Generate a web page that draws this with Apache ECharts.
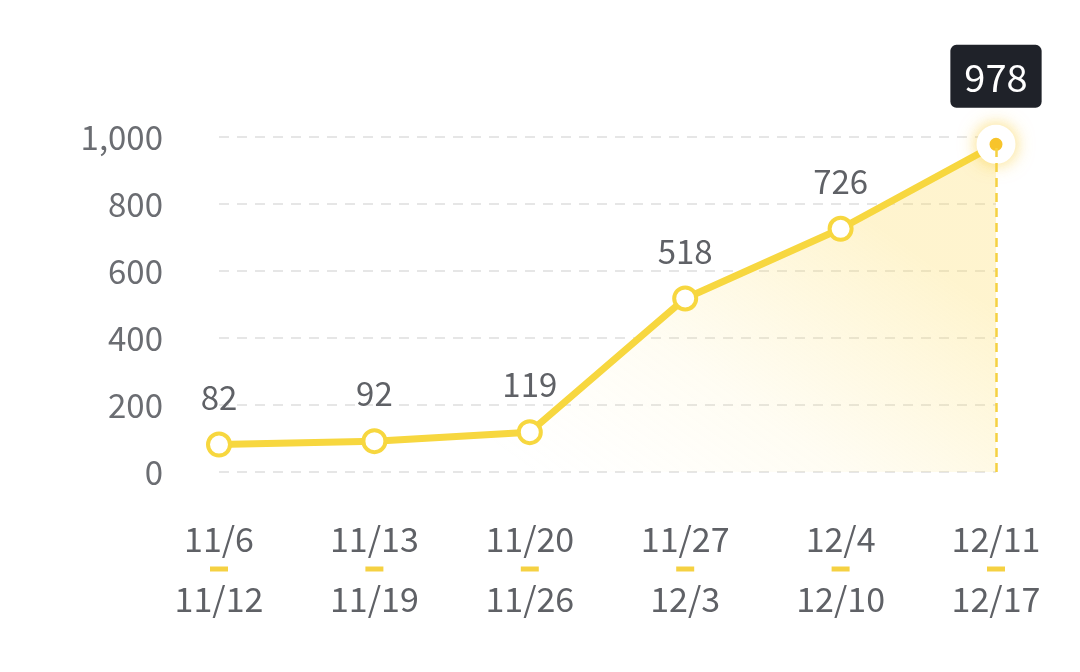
<!DOCTYPE html>
<html><head><meta charset="utf-8">
<script src="https://cdn.jsdelivr.net/npm/echarts@6/dist/echarts.min.js"></script>
<style>html,body{margin:0;padding:0;background:#fff}#c{width:1080px;height:672px}</style>
</head><body><div id="c"></div>
<script>
var startDates = ['11/6','11/13','11/20','11/27','12/4','12/11'];
var endDates = ['11/12','11/19','11/26','12/3','12/10','12/17'];
var values = [82, 92, 119, 518, 726, 978];
var yTicks = [0, 200, 400, 600, 800, 1000];

var FONT = '"Noto Sans CJK SC", "Noto Sans", sans-serif';
var yellow = '#F7D73F';
var categories = startDates.map(function(s, i){ return s + '|' + endDates[i]; });
var lastIdx = values.length - 1;

var data = values.map(function(v, i){
  if (i === lastIdx) {
    return {
      value: v,
      symbolSize: 26,
      itemStyle: {color: '#F5C22E', borderColor: '#fff', borderWidth: 13, shadowBlur: 18, shadowColor: 'rgba(250,200,40,0.55)'},
      label: {
        show: true, position: 'top', distance: 17,
        color: '#fff', fontSize: 38, backgroundColor: '#1F2229', fontFamily: FONT,
        padding: [14, 14, 11, 14], borderRadius: 6
      }
    };
  }
  return v;
});

var chart = echarts.init(document.getElementById('c'));
chart.setOption({
  animation: false,
  grid: {left: 219, right: 84, top: 137, bottom: 200, containLabel: false},
  xAxis: {
    type: 'category', data: categories, boundaryGap: false,
    axisLine: {show: false}, axisTick: {show: false},
    axisLabel: {
      margin: 48, interval: 0,
      formatter: function(v){ var p = v.split('|'); return '{a|' + p[0] + '}\n{d| }\n{a|' + p[1] + '}'; },
      rich: {
        a: {fontSize: 34, color: '#5f6166', fontFamily: FONT, lineHeight: 38},
        d: {width: 18, height: 5, backgroundColor: '#F5D142', lineHeight: 22, fontSize: 2}
      }
    }
  },
  yAxis: {
    type: 'value', min: 0, max: 1000, interval: 200,
    axisLine: {show: false}, axisTick: {show: false},
    axisLabel: {
      margin: 56, fontSize: 33, color: '#6b6d72', fontFamily: FONT,
      formatter: function(v){ return yTicks.indexOf(v) >= 0 ? v.toLocaleString('en-US') : ''; }
    },
    splitLine: {lineStyle: {color: '#e6e6e6', type: [10, 8], width: 2}}
  },
  series: [{
    type: 'line', data: data,
    lineStyle: {color: yellow, width: 7},
    symbol: 'circle', symbolSize: 22,
    itemStyle: {color: '#fff', borderColor: yellow, borderWidth: 4},
    label: {show: true, position: 'top', distance: 18, fontSize: 33, color: '#5f6166', fontFamily: FONT},
    areaStyle: {
      color: new echarts.graphic.LinearGradient(0.7, 0, 0.4, 1, [
        {offset: 0, color: 'rgba(253,218,90,0.42)'},
        {offset: 0.55, color: 'rgba(253,225,110,0.12)'},
        {offset: 1, color: 'rgba(255,235,150,0)'}
      ])
    },
    markLine: {
      silent: true, symbol: 'none', label: {show: false},
      lineStyle: {color: '#F5D142', type: [9, 6], width: 2.5},
      data: [[{coord: [lastIdx, 0]}, {coord: [lastIdx, values[lastIdx]]}]]
    },
    z: 3
  }]
});
</script></body></html>
